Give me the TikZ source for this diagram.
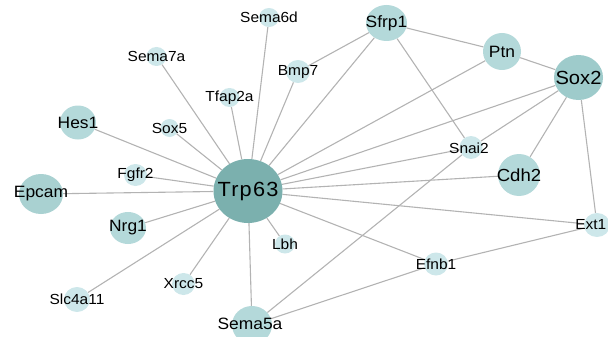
\documentclass[tikz,border=0pt]{standalone}
\usepackage{fontspec}
\setmainfont{Liberation Sans}[FakeStretch=1.06]
\usetikzlibrary{shapes.geometric,backgrounds}
\definecolor{cTrp}{HTML}{7BB0AE}
\definecolor{cSox}{HTML}{9ECBCB}
\definecolor{cBig}{HTML}{A9D1D1}
\definecolor{cMid}{HTML}{B4D9DA}
\definecolor{cSmall}{HTML}{CDE7EA}
\definecolor{cEdge}{HTML}{B3B3B3}
\begin{document}
\begin{tikzpicture}[x=1pt,y=-1pt,
  nd/.style={ellipse,inner sep=0pt,draw=none},
  sn/.style={nd,fill=cSmall,minimum width=20,minimum height=19},
  mn/.style={nd,fill=cMid,minimum width=37,minimum height=34},
  edge/.style={draw=cEdge,line width=1.1pt},
  lblS/.style={inner sep=0pt,font=\fontsize{14.6}{15}\selectfont},
  lblM/.style={inner sep=0pt,font=\fontsize{16.4}{17}\selectfont}]
\useasboundingbox (0,0) rectangle (608,337);
% nodes
\node[nd,fill=cTrp,minimum width=69,minimum height=64] (trp63) at (248,191) {};
\node[sn] (sema6d) at (269,17.5) {};
\node[sn] (sema7a) at (156.5,56.5) {};
\node[sn,minimum width=24,minimum height=23] (bmp7) at (298,71.5) {};
\node[sn] (tfap2a) at (229.5,97.5) {};
\node[sn,minimum width=18,minimum height=18] (sox5) at (169.5,128) {};
\node[sn,minimum width=23,minimum height=22] (fgfr2) at (135.5,175) {};
\node[sn] (lbh) at (285,244) {};
\node[sn,minimum width=23,minimum height=22] (xrcc5) at (183.5,284) {};
\node[sn,minimum width=26,minimum height=25] (slc4a11) at (77,299.5) {};
\node[sn,minimum width=23,minimum height=23] (snai2) at (471,147.5) {};
\node[sn,minimum width=24,minimum height=23] (efnb1) at (436,264) {};
\node[sn,minimum width=26,minimum height=24] (ext1) at (597,225) {};
\node[mn,minimum width=36,minimum height=34] (hes1) at (78,122.5) {};
\node[nd,fill=cBig,minimum width=44,minimum height=40] (epcam) at (41,194) {};
\node[mn,minimum width=36,minimum height=32] (nrg1) at (128,228) {};
\node[mn,minimum width=40,minimum height=38] (sema5a) at (252,325) {};
\node[mn,minimum width=41,minimum height=36] (sfrp1) at (386.5,23) {};
\node[mn,minimum width=38,minimum height=37] (ptn) at (502,51.5) {};
\node[mn,minimum width=42,minimum height=42] (cdh2) at (519,175) {};
\node[nd,fill=cSox,minimum width=49,minimum height=45] (sox2) at (578.5,77.5) {};
% edges
\begin{pgfonlayer}{background}
\foreach \t in {sema6d,sema7a,bmp7,tfap2a,hes1,sox5,fgfr2,epcam,nrg1,lbh,xrcc5,slc4a11,sema5a,sfrp1,ptn,sox2,snai2,cdh2,ext1,efnb1}
  \draw[edge] (trp63) -- (\t);
\draw[edge] (sfrp1) -- (bmp7);
\draw[edge] (sfrp1) -- (ptn);
\draw[edge] (sfrp1) -- (snai2);
\draw[edge] (ptn) -- (sox2);
\draw[edge] (sox2) -- (snai2);
\draw[edge] (sox2) -- (cdh2);
\draw[edge] (sox2) -- (ext1);
\draw[edge] (sema5a) -- (snai2);
\draw[edge] (sema5a) -- (efnb1);
\draw[edge] (efnb1) -- (ext1);
\end{pgfonlayer}
% labels
\node[inner sep=0pt,font=\fontsize{20.5}{21}\selectfont\addfontfeature{LetterSpace=6}] (t-trp63) at (trp63) {Trp63};
\node[lblS] (t-sema6d) at (sema6d) {Sema6d};
\node[lblS] (t-sema7a) at (sema7a) {Sema7a};
\node[lblS] (t-bmp7) at (bmp7) {Bmp7};
\node[lblS] (t-tfap2a) at (tfap2a) {Tfap2a};
\node[lblS] (t-sox5) at (sox5) {Sox5};
\node[lblS] (t-fgfr2) at (fgfr2) {Fgfr2};
\node[lblS] (t-lbh) at (lbh) {Lbh};
\node[lblS] (t-xrcc5) at (xrcc5) {Xrcc5};
\node[lblS] (t-slc4a11) at (slc4a11) {Slc4a11};
\node[lblS] (t-snai2) at (469,148) {Snai2};
\node[lblS] (t-efnb1) at (efnb1) {Efnb1};
\node[lblS,anchor=east] (t-ext1) at (606.5,225) {Ext1};
\node[lblM] (t-hes1) at (hes1) {Hes1};
\node[lblM] (t-epcam) at (epcam) {Epcam};
\node[lblM] (t-nrg1) at (nrg1) {Nrg1};
\node[lblM] (t-sema5a) at (250,323.5) {Sema5a};
\node[lblM] (t-sfrp1) at (sfrp1) {Sfrp1};
\node[lblM] (t-ptn) at (ptn) {Ptn};
\node[lblM,font=\fontsize{17.5}{18}\selectfont] (t-cdh2) at (cdh2) {Cdh2};
\node[inner sep=0pt,font=\fontsize{19}{19}\selectfont] (t-sox2) at (sox2) {Sox2};
\end{tikzpicture}
\end{document}
